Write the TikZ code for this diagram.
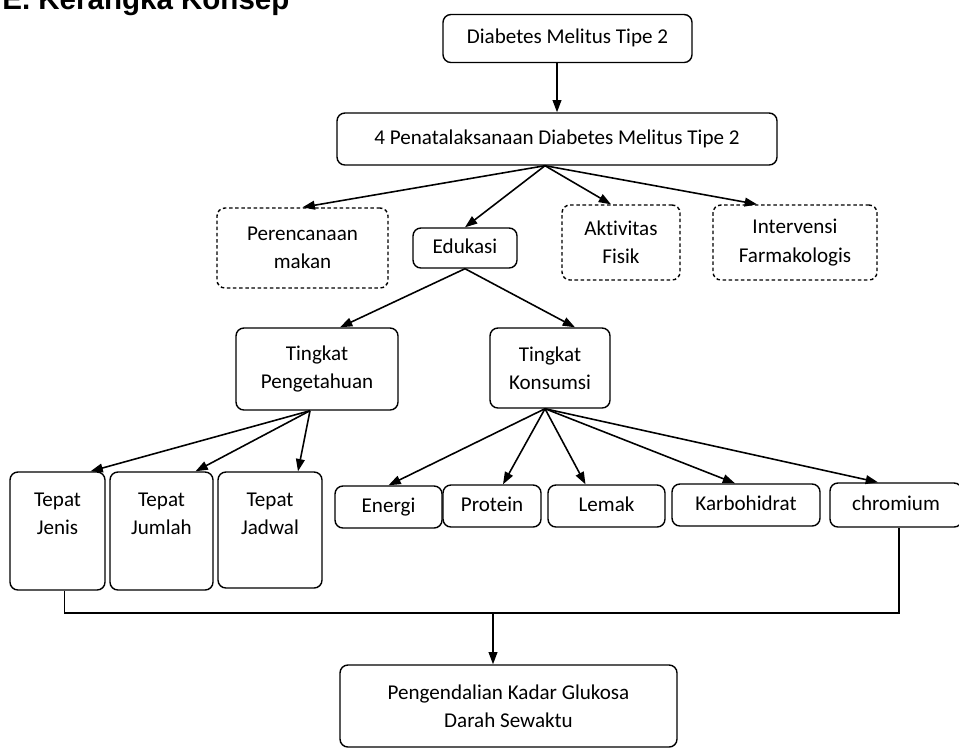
\documentclass[tikz,border=0pt]{standalone}
\usepackage{fontspec}
\setmainfont{Carlito}[Ligatures=NoCommon]
\newfontfamily\titlefont{Liberation Sans}
\usetikzlibrary{arrows.meta,calc}

\tikzset{
	box/.style={draw, line width=0.8pt, rounded corners=4.5pt, align=center, inner sep=0pt, font=\fontsize{12}{16}\selectfont},
	dbox/.style={box, dash pattern=on 2pt off 1.5pt},
	one/.style={text height=8.5pt, text depth=2.5pt},
	sz/.style n args={2}{minimum width=#1*0.02cm, minimum height=#2*0.02cm},
	arr/.style={-{Triangle[length=7pt,width=5pt]}, line width=0.9pt},
	toplabel/.style={label={[align=center, anchor=north, yshift=-15*0.02cm, font=\fontsize{12}{16}\selectfont]north:#1}}
}

\begin{document}
\begin{tikzpicture}[x=0.02cm, y=-0.02cm]
			%%%%% START %%%%%
			\useasboundingbox (0, 0) rectangle (959, 748);
			
			\node[anchor=base west, inner sep=0pt, font=\titlefont\bfseries\fontsize{16.8}{20}\selectfont] (title) at (2, 9.5) {E. Kerangka Konsep};
			
			\node[box, one, sz={249}{48}] (dm) at (567.5, 38.5) {Diabetes Melitus Tipe 2};
			\node[box, one, sz={440}{52}] (pn) at (557, 139) {4 Penatalaksanaan Diabetes Melitus Tipe 2};
			
			\node[dbox, sz={171}{80}] (pm) at (302.5, 248) {Perencanaan\\makan};
			\node[box, one, sz={104}{40}] (ed) at (465, 248) {Edukasi};
			\node[dbox, sz={118}{75}] (af) at (621, 242.5) {Aktivitas\\Fisik};
			\node[dbox, sz={164}{75}] (iv) at (795, 242.5) {Intervensi\\Farmakologis};
			
			\node[box, sz={162}{82}] (tp) at (317, 369) {Tingkat\\Pengetahuan};
			\node[box, sz={120}{80}] (tk) at (550, 368) {Tingkat\\Konsumsi};
			
			\node[box, sz={95}{118}, toplabel={Tepat\\Jenis}] (tj) at (57.5, 531) {};
			\node[box, sz={103}{118}, toplabel={Tepat\\Jumlah}] (tu) at (161.5, 531) {};
			\node[box, sz={104}{116}, toplabel={Tepat\\Jadwal}] (td) at (270, 530) {};
			
			\node[box, one, sz={107}{42}] (en) at (388.5, 507) {Energi};
			\node[box, one, sz={98}{42}] (pr) at (492, 506) {Protein};
			\node[box, one, sz={117}{42}] (lm) at (606.5, 506) {Lemak};
			\node[box, one, sz={148}{42}] (kh) at (746, 505) {Karbohidrat};
			\node[box, one, sz={132}{44}] (ch) at (896, 505) {chromium};
			
			\node[box, sz={337}{82}] (gk) at (508.5, 706) {Pengendalian Kadar Glukosa\\Darah Sewaktu};
			
			% arrows
			\draw[arr] (pn.north |- dm.south) -- (pn.north);
			\draw[arr] ($(pn.south)+(-12, 0)$) -- (pm.north);
			\draw[arr] ($(pn.south)+(-12, 0)$) -- (ed.north);
			\draw[arr] ($(pn.south)+(-12, 0)$) -- ($(af.north)+(-10, 0)$);
			\draw[arr] ($(pn.south)+(-12, 0)$) -- ($(iv.north)+(-38, 0)$);
			
			\draw[arr] (ed.south) -- ($(tp.north)+(23, 0)$);
			\draw[arr] (ed.south) -- ($(tk.north)+(25, 0)$);
			
			\draw[arr] ($(tp.south)+(-7, 0)$) -- ($(tj.north)+(33, 0)$);
			\draw[arr] ($(tp.south)+(-7, 0)$) -- ($(tu.north)+(34, 0)$);
			\draw[arr] ($(tp.south)+(-7, 0)$) -- ($(td.north)+(28, 0)$);
			
			\draw[arr] ($(tk.south)+(-5, 0)$) -- (en.north);
			\draw[arr] ($(tk.south)+(-5, 0)$) -- ($(pr.north)+(11, 0)$);
			\draw[arr] ($(tk.south)+(-5, 0)$) -- ($(lm.north)+(-21, 0)$);
			\draw[arr] ($(tk.south)+(-5, 0)$) -- ($(kh.north)+(-11, 0)$);
			\draw[arr] ($(tk.south)+(-5, 0)$) -- ($(ch.north)+(-18, 0)$);
			
			% joining line
			\coordinate (jn) at (493, 613);
			\draw[line width=0.6pt] ($(tj.south)+(7, 0)$) |- (jn) -| ($(ch.south)+(3, 0)$);
			\draw[arr] (jn) -- (gk.north -| jn);
			%%%%% END %%%%%
		\end{tikzpicture}
\end{document}
